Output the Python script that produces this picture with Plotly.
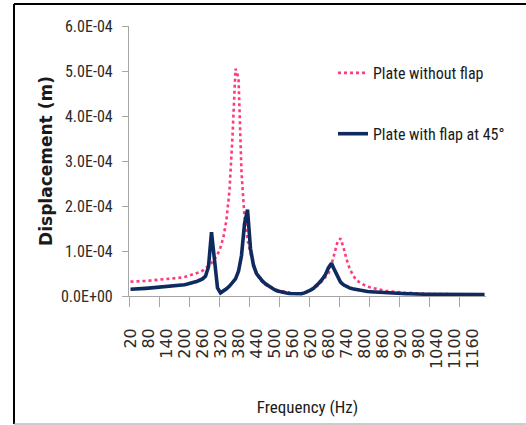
import plotly.graph_objects as go

# Category axis: frequency (Hz)
freq_hz = list(range(20, 1201, 10))

# Displacement in units of 1e-5 m
disp_without_flap_e5 = [
    3.2, 3.2, 3.25, 3.3, 3.3, 3.35, 3.4, 3.45, 3.5, 3.55,
    3.6, 3.65, 3.7, 3.75, 3.85, 3.9, 4.0, 4.1, 4.2, 4.4,
    4.6, 4.8, 5.0, 5.3, 5.6, 6.2, 6.8, 7.3, 8.2, 9.2,
    10.8, 13.2, 17.0, 23.5, 35.5, 50.5, 48.5, 27.5, 17.5, 12.5,
    9.5, 7.0, 5.0, 3.8, 3.1, 2.5, 2.1, 1.8, 1.6, 1.35,
    1.15, 1.0, 0.85, 0.7, 0.6, 0.5, 0.45, 0.55, 0.7, 0.9,
    1.2, 1.6, 2.1, 2.7, 3.4, 4.2, 5.0, 7.0, 9.5, 12.0,
    12.8, 10.8, 8.2, 6.2, 4.8, 3.8, 3.2, 2.7, 2.4, 2.1,
    1.9, 1.7, 1.5, 1.35, 1.25, 1.15, 1.05, 1.0, 0.9, 0.85,
    0.8, 0.75, 0.7, 0.7, 0.65, 0.6, 0.6, 0.55, 0.5, 0.5,
    0.45, 0.45, 0.45, 0.4, 0.4, 0.4, 0.4, 0.35, 0.35, 0.35,
    0.35, 0.3, 0.3, 0.3, 0.3, 0.3, 0.3, 0.3, 0.3,
]

disp_with_flap45_e5 = [
    1.5, 1.5, 1.55, 1.6, 1.65, 1.7, 1.75, 1.8, 1.85, 1.9,
    1.95, 2.0, 2.05, 2.1, 2.15, 2.2, 2.3, 2.4, 2.5, 2.65,
    2.8, 3.0, 3.2, 3.5, 3.8, 4.4, 6.5, 14.2, 7.0, 1.8,
    0.7, 1.1, 1.6, 2.2, 2.9, 3.8, 5.5, 9.0, 16.0, 19.2,
    10.5, 6.8, 5.0, 4.0, 3.3, 2.7, 2.2, 1.8, 1.4, 1.1,
    0.9, 0.75, 0.65, 0.55, 0.5, 0.45, 0.45, 0.5, 0.7, 0.95,
    1.3, 1.7, 2.3, 3.0, 3.8, 4.8, 6.3, 7.3, 5.8, 4.3,
    3.1, 2.5, 2.1, 1.8, 1.6, 1.45, 1.3, 1.2, 1.1, 1.0,
    0.95, 0.9, 0.8, 0.75, 0.7, 0.65, 0.65, 0.6, 0.6, 0.55,
    0.55, 0.5, 0.5, 0.5, 0.45, 0.45, 0.45, 0.45, 0.4, 0.4,
    0.4, 0.4, 0.4, 0.35, 0.35, 0.35, 0.35, 0.35, 0.3, 0.3,
    0.3, 0.3, 0.3, 0.3, 0.3, 0.3, 0.3, 0.3, 0.3,
]

x_tick_labels = [str(v) for v in range(20, 1161, 60)]
y_tick_values = [0, 1e-4, 2e-4, 3e-4, 4e-4, 5e-4, 6e-4]
y_tick_labels = ["0.0E+00", "1.0E-04", "2.0E-04", "3.0E-04", "4.0E-04", "5.0E-04", "6.0E-04"]

without_flap = [v * 1e-5 for v in disp_without_flap_e5]
with_flap45 = [v * 1e-5 for v in disp_with_flap45_e5]

NARROW = "Liberation Sans Narrow, Arial Narrow, Roboto Condensed, sans-serif"
AXIS_GREY = "#A6A6A6"

W, H = 526, 425
L, R, T, B = 129, 40, 26, 129
PW, PH = W - L - R, H - T - B


def px_x(px):
    return (px - L) / PW


def px_y(py):
    return (H - B - py) / PH


fig = go.Figure()
fig.add_trace(go.Scatter(
    x=freq_hz, y=without_flap, name="Plate without flap", mode="lines",
    line=dict(color="#FF3B7A", width=2.6, dash="dot"), legendgroup="a",
))
fig.add_trace(go.Scatter(
    x=freq_hz, y=with_flap45, name="Plate with flap at 45°", mode="lines",
    line=dict(color="#0F2A5E", width=3.6), legendgroup="b",
))
# helper trace for the label axis
fig.add_trace(go.Scatter(x=[], y=[], xaxis="x2", showlegend=False, hoverinfo="skip"))

xrange = [15, 1205]
fig.update_layout(
    width=W, height=H,
    margin=dict(l=L, r=R, t=T, b=B, pad=0),
    paper_bgcolor="white", plot_bgcolor="white",
    showlegend=True,
    legend=dict(
        x=px_x(333), y=px_y(56), xanchor="left", yanchor="top",
        font=dict(family=NARROW, size=16, color="#1a1a1a"),
        tracegroupgap=37, traceorder="grouped", bgcolor="rgba(0,0,0,0)",
    ),
    xaxis=dict(
        range=xrange, showgrid=False, zeroline=False,
        showline=True, linecolor=AXIS_GREY, linewidth=1.2,
        tickmode="linear", tick0=15, dtick=100,
        ticks="outside", ticklen=10, tickcolor=AXIS_GREY, tickwidth=1.2,
        showticklabels=False, automargin=False,
    ),
    xaxis2=dict(
        range=xrange, overlaying="x", side="bottom", anchor="y",
        showgrid=False, zeroline=False, showline=False,
        tickmode="array", tickvals=list(range(20, 1161, 60)), ticktext=x_tick_labels,
        ticks="", tickangle=-90, ticklabelstandoff=28,
        tickfont=dict(family="DejaVu Sans", size=16, color="#2a2a2a"),
        title=dict(text="Frequency (Hz)", font=dict(family=NARROW, size=17, color="#1a1a1a"), standoff=33),
        automargin=False,
    ),
    yaxis=dict(
        range=[0, 6e-4], showgrid=False, zeroline=False,
        showline=True, linecolor=AXIS_GREY, linewidth=1.2,
        tickmode="array", tickvals=y_tick_values, ticktext=y_tick_labels,
        ticks="outside", ticklen=6, tickcolor=AXIS_GREY, tickwidth=1.2,
        ticklabelstandoff=6,
        tickfont=dict(family=NARROW, size=16, color="#2a2a2a"),
        title=dict(text="Displacement (m)", font=dict(family="DejaVu Sans", size=17, color="#1a1a1a", weight="bold"), standoff=4),
        automargin=False,
    ),
    shapes=[
        dict(type="line", xref="paper", yref="paper", x0=px_x(14), x1=px_x(14), y0=px_y(4), y1=px_y(424),
             line=dict(color="black", width=2)),
        dict(type="line", xref="paper", yref="paper", x0=px_x(14), x1=px_x(526), y0=px_y(4), y1=px_y(4),
             line=dict(color="black", width=2)),
        dict(type="line", xref="paper", yref="paper", x0=px_x(14), x1=px_x(526), y0=px_y(424), y1=px_y(424),
             line=dict(color="#9A9A9A", width=1)),
    ],
)

fig.write_html("out.html")
